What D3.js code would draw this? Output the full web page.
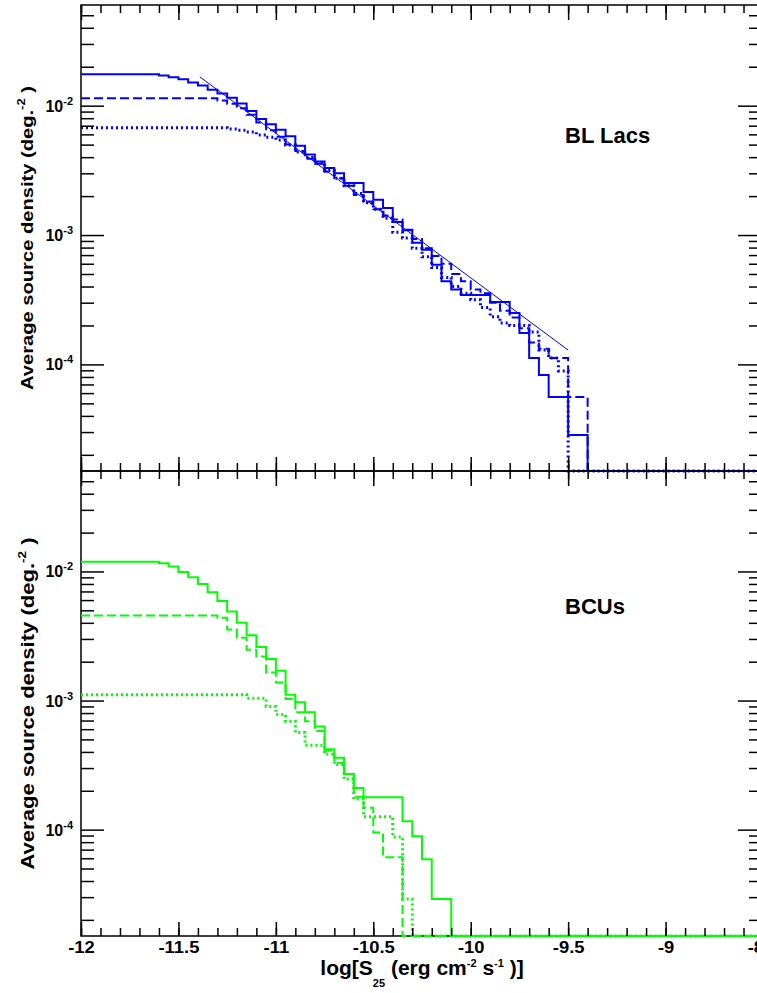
<!DOCTYPE html>
<html>
<head>
<meta charset="utf-8">
<script src="https://cdn.jsdelivr.net/npm/d3@7/dist/d3.min.js"></script>
<style>
  body { margin: 0; background: #fff; }
  text { font-family: "Liberation Sans", Arial, sans-serif; font-weight: bold; fill: #000; }
</style>
</head>
<body>
<div id="chart"></div>
<script>
// cumulative source density per bin of log S25, bins 0.05 wide starting at -12
// bins after the last listed value are empty
var binStart = -12, binWidth = 0.05, nBins = 70;

var blLacSolid = [0.0175, 0.0175, 0.0175, 0.0175, 0.0175, 0.0175, 0.0175, 0.0175,
    0.0171, 0.0166, 0.0160, 0.0151, 0.0143, 0.0133, 0.0124, 0.0115, 0.0104, 0.0091,
    0.0079, 0.0072, 0.0065, 0.0058, 0.0049, 0.0042, 0.0037, 0.0033, 0.0030, 0.00253,
    0.00253, 0.00215, 0.00187, 0.00162, 0.00126, 0.00109, 0.00087, 0.00077, 0.00059,
    0.00044, 0.00038, 0.000344, 0.000344, 0.000344, 0.000304, 0.000304, 0.00025,
    0.000175, 0.000112, 0.000083, 0.000056, 0.000056, 0.0000285, 0.0000285];
var blLacDashed = [0.0114, 0.0114, 0.0114, 0.0114, 0.0114, 0.0114, 0.0114, 0.0114,
    0.0114, 0.0114, 0.0114, 0.0114, 0.0114, 0.0114, 0.01096, 0.01035, 0.00955, 0.00851,
    0.00741, 0.00646, 0.00575, 0.00501, 0.00447, 0.00389, 0.00355, 0.00309, 0.00275,
    0.0024, 0.00204, 0.00182, 0.00158, 0.00141, 0.00132, 0.0011, 0.00093, 0.00079,
    0.00069, 0.0006, 0.0005, 0.00044, 0.00038, 0.000355, 0.0003, 0.00026, 0.00023,
    0.00019, 0.000148, 0.000132, 0.000112, 0.000112, 0.000056, 0.000056];
var blLacDotted = [0.00676, 0.00676, 0.00676, 0.00676, 0.00676, 0.00676, 0.00676,
    0.00676, 0.00676, 0.00676, 0.00676, 0.00676, 0.00676, 0.00676, 0.00676, 0.0066,
    0.00646, 0.00627, 0.00594, 0.00569, 0.00543, 0.00497, 0.00439, 0.00398, 0.00361,
    0.00316, 0.00275, 0.0024, 0.00209, 0.00178, 0.00158, 0.00135, 0.00105, 0.00095,
    0.00079, 0.00068, 0.00056, 0.00047, 0.0004, 0.000355, 0.000316, 0.000275, 0.000234,
    0.000209, 0.0002, 0.0002, 0.000178, 0.000129, 0.000112, 0.000089];
// power-law fit, end points
var blLacFitS = [-11.39, -9.5];
var blLacFitN = [0.0167, 0.000129];

var bcuSolid = [0.0119, 0.0119, 0.0119, 0.0119, 0.0119, 0.0119, 0.0119, 0.0119,
    0.0116, 0.0109, 0.0099, 0.0090, 0.0080, 0.0069, 0.0059, 0.0049, 0.0040, 0.0032,
    0.0026, 0.0021, 0.0017, 0.00111, 0.00097, 0.00081, 0.00063, 0.00042, 0.00036,
    0.00027, 0.00021, 0.000178, 0.000178, 0.000178, 0.000178, 0.000116, 0.000089,
    0.000059, 0.000029, 0.000029];
var bcuDashed = [0.00455, 0.00455, 0.00455, 0.00455, 0.00455, 0.00455, 0.00455,
    0.00455, 0.00455, 0.00455, 0.00455, 0.00455, 0.00455, 0.00455, 0.00438, 0.00355,
    0.00307, 0.00248, 0.00219, 0.00165, 0.00138, 0.00103, 0.00081, 0.00069, 0.00058,
    0.00041, 0.00033, 0.00027, 0.00018, 0.000148, 0.000095, 0.000061, 0.000061];
var bcuDotted = [0.00111, 0.00111, 0.00111, 0.00111, 0.00111, 0.00111, 0.00111,
    0.00111, 0.00111, 0.00111, 0.00111, 0.00111, 0.00111, 0.00111, 0.00111, 0.00111,
    0.00111, 0.00104, 0.00104, 0.0009, 0.00078, 0.00069, 0.000566, 0.00045, 0.00045,
    0.000383, 0.00032, 0.000247, 0.000173, 0.000126, 0.000126, 0.000126, 0.0000877,
    0.000029];

var xMajor = [-12, -11.5, -11, -10.5, -10, -9.5, -9, -8.5];
var xLabels = ["-12", "-11.5", "-11", "-10.5", "-10", "-9.5", "-9", "-8.5"];
var yMajor = [1e-4, 1e-3, 1e-2];
var yLabels = ["-4", "-3", "-2"];
var yDomain = [1.5e-5, 0.06];

var width = 757, height = 993,
    left = 81, right = 763;

var svg = d3.select("#chart")
    .append("svg")
    .attr("width", width)
    .attr("height", height)

var x = d3.scaleLinear().domain([binStart, binStart + nBins * binWidth]).range([left, right]);

var xMinor = d3.range(0, 36).map(function(i){ return Math.round((-12 + i * 0.1) * 10) / 10; });
var yMinor = [];
[1e-5, 1e-4, 1e-3, 1e-2].forEach(function(dec){
    for (var m = 2; m <= 9; m++) {
        var v = m * dec;
        if (v > yDomain[0] && v < yDomain[1]) yMinor.push(v);
    }
});

var panels = [
    {name: "BL Lacs", top: 5, bottom: 471, color: "#0000ff",
     solid: blLacSolid, dashed: blLacDashed, dotted: blLacDotted, fit: true,
     labelY: 143, titleX: 33, titleLen: 304, titleSize: 17},
    {name: "BCUs", top: 471, bottom: 936, color: "#00ff00",
     solid: bcuSolid, dashed: bcuDashed, dotted: bcuDotted, fit: false,
     labelY: 614, titleX: 34, titleLen: 332, titleSize: 18}
];

function histPoints(vals){
    var pts = [];
    for (var i = 0; i < nBins; i++) {
        var v = i < vals.length ? vals[i] : 0;
        var x0 = binStart + i * binWidth;
        pts.push([x0, v], [x0 + binWidth, v]);
    }
    return pts;
}

function styleTicks(g){
    g.select(".domain").remove();
    g.selectAll(".tick line").attr("stroke", "#000").attr("stroke-width", 1.5);
}

function drawPanel(p){
    var y = d3.scaleLog().domain(yDomain).range([p.bottom, p.top]);
    var g = svg.append("g").attr("class", "panel");

    g.append("rect")
        .attr("x", left).attr("y", p.top)
        .attr("width", right - left).attr("height", p.bottom - p.top)
        .attr("fill", "none").attr("stroke", "#000").attr("stroke-width", 1.5);

    var line = d3.line()
        .x(function(d){ return x(d[0]); })
        .y(function(d){ return y(Math.max(d[1], yDomain[0])); });

    var series = [
        {vals: p.dotted, dash: "2,3", w: 3},
        {vals: p.dashed, dash: "9,4", w: 2},
        {vals: p.solid, dash: null, w: 2}
    ];
    series.forEach(function(s){
        g.append("path")
            .attr("d", line(histPoints(s.vals)))
            .attr("fill", "none")
            .attr("stroke", p.color)
            .attr("stroke-width", s.w)
            .attr("stroke-dasharray", s.dash);
    });

    if (p.fit) {
        g.append("path")
            .attr("d", line(blLacFitS.map(function(s, i){ return [s, blLacFitN[i]]; })))
            .attr("fill", "none")
            .attr("stroke", p.color)
            .attr("stroke-width", 1);
    }

    // ticks on all four sides, pointing inwards
    g.append("g").attr("transform", "translate(0," + p.bottom + ")")
        .call(d3.axisTop(x).tickValues(xMinor).tickSize(8).tickFormat("")).call(styleTicks);
    g.append("g").attr("transform", "translate(0," + p.bottom + ")")
        .call(d3.axisTop(x).tickValues(xMajor).tickSize(14).tickFormat("")).call(styleTicks);
    g.append("g").attr("transform", "translate(0," + p.top + ")")
        .call(d3.axisBottom(x).tickValues(xMinor).tickSize(8).tickFormat("")).call(styleTicks);
    g.append("g").attr("transform", "translate(0," + p.top + ")")
        .call(d3.axisBottom(x).tickValues(xMajor).tickSize(15).tickFormat("")).call(styleTicks);
    g.append("g").attr("transform", "translate(" + left + ",0)")
        .call(d3.axisRight(y).tickValues(yMinor).tickSize(13).tickFormat("")).call(styleTicks);
    g.append("g").attr("transform", "translate(" + left + ",0)")
        .call(d3.axisRight(y).tickValues(yMajor).tickSize(23).tickFormat("")).call(styleTicks);
    g.append("g").attr("transform", "translate(" + right + ",0)")
        .call(d3.axisLeft(y).tickValues(yMinor).tickSize(14).tickFormat("")).call(styleTicks);
    g.append("g").attr("transform", "translate(" + right + ",0)")
        .call(d3.axisLeft(y).tickValues(yMajor).tickSize(25).tickFormat("")).call(styleTicks);

    // y tick labels 10^n
    var lab = g.selectAll(".ylab").data(yMajor).enter().append("text")
        .attr("class", "ylab")
        .attr("x", 73)
        .attr("y", function(d){ return y(d) + 6; })
        .attr("text-anchor", "end")
        .style("font-size", "16px");
    lab.append("tspan").text("10");
    lab.append("tspan").attr("dy", -7).style("font-size", "11px")
        .text(function(d, i){ return yLabels[i]; });

    // y axis title
    var t = g.append("text")
        .attr("transform", "translate(" + p.titleX + "," + ((p.top + p.bottom) / 2) + ") rotate(-90)")
        .attr("text-anchor", "middle")
        .attr("textLength", p.titleLen)
        .attr("lengthAdjust", "spacingAndGlyphs")
        .style("font-size", p.titleSize + "px");
    t.append("tspan").text("Average source density (deg.");
    t.append("tspan").attr("dy", -8).style("font-size", "11px").text("-2");
    t.append("tspan").attr("dy", 8).text(" )");

    g.append("text")
        .attr("x", 565).attr("y", p.labelY)
        .style("font-size", "22px")
        .text(p.name);
}

panels.forEach(drawPanel);

// x tick labels under the lower panel
var xl = svg.append("g").attr("transform", "translate(0," + panels[1].bottom + ")")
    .call(d3.axisBottom(x).tickValues(xMajor).tickSize(0).tickPadding(6)
        .tickFormat(function(d, i){ return xLabels[i]; }));
xl.select(".domain").remove();
xl.selectAll("text")
    .attr("font-family", null).style("font-size", "16px")
    .attr("transform", "scale(1.15,1)");

// x axis title
var xt = svg.append("text")
    .attr("x", (left + right) / 2).attr("y", 975)
    .attr("text-anchor", "middle")
    .style("font-size", "21px");
xt.append("tspan").text("log[S");
xt.append("tspan").attr("dy", 12).style("font-size", "11px").text("25");
xt.append("tspan").attr("dy", -12).text(" (erg cm");
xt.append("tspan").attr("dy", -8).style("font-size", "11px").text("-2");
xt.append("tspan").attr("dy", 8).text(" s");
xt.append("tspan").attr("dy", -8).style("font-size", "11px").text("-1");
xt.append("tspan").attr("dy", 8).text(" )]");
</script>
</body>
</html>
